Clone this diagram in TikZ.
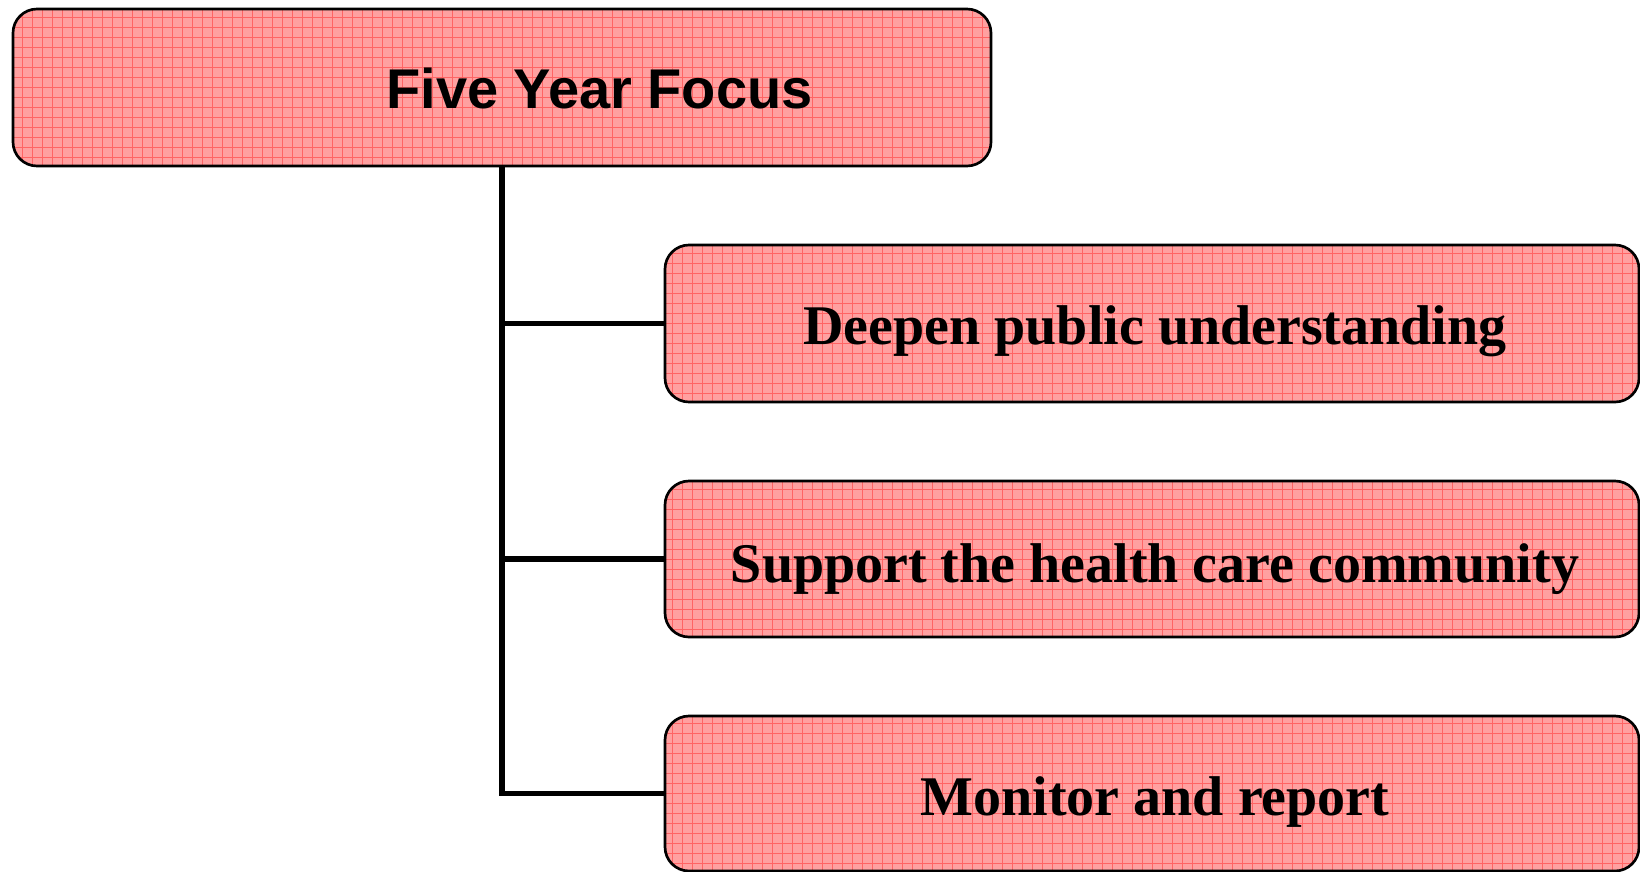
\documentclass[tikz,border=0pt]{standalone}
\usepackage{fontspec}
\newfontfamily\headfont{Liberation Sans}
\newfontfamily\itemfont{Liberation Serif}
\usetikzlibrary{backgrounds}
\definecolor{boxfill}{RGB}{255,160,160}
\definecolor{gridcol}{RGB}{255,100,100}
\tikzset{
  box/.style={draw=black, line width=2pt, rounded corners=18pt, fill=boxfill,
    inner sep=0pt, outer sep=0pt,
    path picture={\draw[gridcol, line width=0.5pt]
      (path picture bounding box.south west) grid[step=7.5pt]
      (path picture bounding box.north east);}},
  conn/.style={draw=black, line width=3.8pt},
  headtext/.style={anchor=base, inner sep=0pt, font=\headfont\bfseries\fontsize{42}{50}\selectfont},
  itemtext/.style={anchor=base, inner sep=0pt, font=\itemfont\bfseries\fontsize{42}{50}\selectfont}
}
\begin{document}
\begin{tikzpicture}[x=0.75pt, y=-0.75pt]
\useasboundingbox (0,0) rectangle (1640,871);
\node[box, minimum width=733.5pt, minimum height=117.75pt] (top) at (502,87.5) {};
\node[box, minimum width=730.5pt, minimum height=117.75pt] (c1) at (1152,323.5) {};
\node[box, minimum width=730.5pt, minimum height=117pt] (c2) at (1152,559) {};
\node[box, minimum width=730.5pt, minimum height=116.25pt] (c3) at (1152,793.5) {};
\begin{scope}[on background layer]
\draw[conn] (top.south) -- (top.south |- c3.west) -- (c3.west);
\draw[conn] (top.south |- c1.west) -- (c1.west);
\draw[conn] (top.south |- c2.west) -- (c2.west);
\end{scope}
\node[headtext] (ttop) at (599.5,108) {Five Year Focus};
\node[itemtext] (t1) at (1155,344) {Deepen public understanding};
\node[itemtext] (t2) at (1155,582) {Support the health care community};
\node[itemtext] (t3) at (1155,815) {Monitor and report};
\end{tikzpicture}
\end{document}
